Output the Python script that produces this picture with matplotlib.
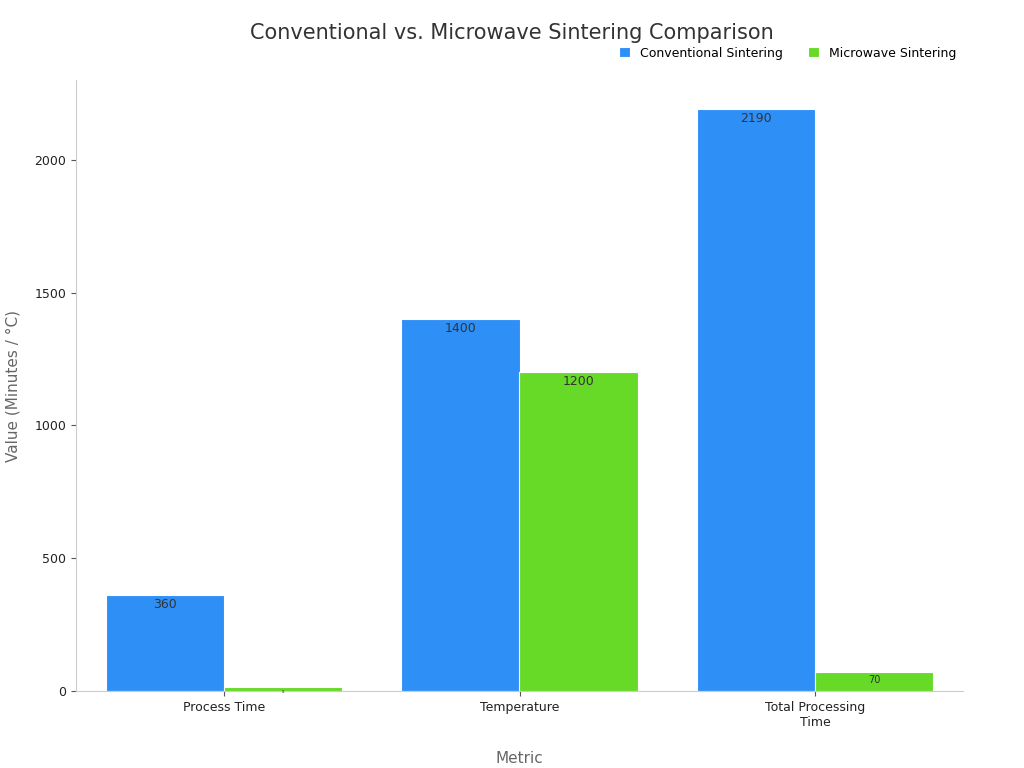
import matplotlib
matplotlib.use("Agg")
import matplotlib.pyplot as plt
import numpy as np

metrics = ["Process Time", "Temperature", "Total Processing\nTime"]
conventional = [360, 1400, 2190]
microwave = [15, 1200, 70]
series_names = ["Conventional Sintering", "Microwave Sintering"]

fig = plt.figure(figsize=(10.24, 7.68), dpi=100)
ax = fig.add_axes([76 / 1024, 1 - 691 / 768, 887 / 1024, 611 / 768])

x = np.arange(len(metrics))
w = 0.4
b1 = ax.bar(x - w / 2, conventional, w, color="#2e90f7", edgecolor="white", linewidth=0.8, label=series_names[0])
b2 = ax.bar(x + w / 2, microwave, w, color="#66da26", edgecolor="white", linewidth=0.8, label=series_names[1])

for bars in (b1, b2):
    for rect, v in zip(bars, bars.datavalues):
        fs = 9 if v > 100 else 7
        if v < 30:
            fs = 2
        ax.text(rect.get_x() + rect.get_width() / 2, v - 10, str(int(v)),
                ha="center", va="top", fontsize=fs, color="#333333")

ax.set_xlim(-0.5, 2.5)
ax.set_ylim(0, 2300)
ax.set_yticks([0, 500, 1000, 1500, 2000])
ax.set_xticks(x)
ax.set_xticklabels(metrics, fontsize=9, color="#222222")
ax.tick_params(axis="y", labelsize=9, labelcolor="#222222", color="#555555")
ax.tick_params(axis="x", color="#555555")
for s in ("top", "right"):
    ax.spines[s].set_visible(False)
ax.spines["left"].set_color("#cccccc")
ax.spines["bottom"].set_color("#cccccc")
ax.set_xlabel("Metric", fontsize=11, color="#666666", labelpad=16)
ax.set_ylabel("Value (Minutes / °C)", fontsize=11, color="#666666", labelpad=10)

fig.text(0.5, 1 - 33 / 768, "Conventional vs. Microwave Sintering Comparison",
         ha="center", va="center", fontsize=15, color="#333333")
fig.legend(loc="center right", bbox_to_anchor=(0.945, 1 - 53 / 768), ncol=2,
           frameon=False, fontsize=9, handlelength=0.9, handleheight=0.9, columnspacing=2)

fig.savefig("out.png", dpi=100)
